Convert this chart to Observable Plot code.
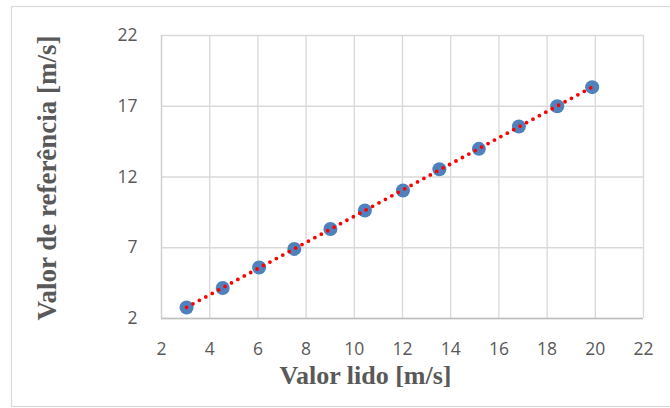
<!DOCTYPE html>
<html>
<head>
<meta charset="utf-8">
<script src="https://cdn.jsdelivr.net/npm/d3@7"></script>
<script src="https://cdn.jsdelivr.net/npm/@observablehq/plot@0.6"></script>
<style>
  body { margin: 0; background: #fff; }
  #chart svg { display: block; }
</style>
</head>
<body>
<div id="chart"></div>
<script>
const valorLido = [3.04, 4.54, 6.05, 7.51, 9.01, 10.44, 12.02, 13.53, 15.17, 16.83, 18.42, 19.87];
const valorReferencia = [2.78, 4.16, 5.60, 6.92, 8.33, 9.63, 11.05, 12.55, 13.99, 15.57, 17.00, 18.35];
const xTicks = [2, 4, 6, 8, 10, 12, 14, 16, 18, 20, 22];
const yTicks = [2, 7, 12, 17, 22];
const xLabel = "Valor lido [m/s]";
const yLabel = "Valor de referência [m/s]";

const data = valorLido.map((x, i) => ({x, y: valorReferencia[i]}));

const tickFont = "'Open Sans', 'Liberation Sans', sans-serif";
const labelFont = "'Liberation Serif', 'Times New Roman', serif";

const chart = Plot.plot({
  width: 670,
  height: 408,
  marginLeft: 161,
  marginRight: 27,
  marginTop: 35,
  marginBottom: 90,
  style: {background: "#fff", overflow: "visible"},
  x: {domain: [2, 22], ticks: xTicks},
  y: {domain: [2, 22], ticks: yTicks},
  marks: [
    Plot.frame({stroke: "#d9d9d9", insetLeft: -150, insetTop: -29, insetRight: -40, insetBottom: -88, strokeWidth: 1.2}),
    Plot.gridX(xTicks, {stroke: "#d9d9d9", strokeOpacity: 1, strokeWidth: 1.3}),
    Plot.gridY(yTicks, {stroke: "#d9d9d9", strokeOpacity: 1, strokeWidth: 1.3}),
    Plot.ruleY([2], {stroke: "#bfbfbf", strokeWidth: 1.3}),
    Plot.ruleX([2], {stroke: "#d0d0d0", strokeWidth: 1.3}),
    Plot.axisX(xTicks, {tickSize: 0, tickPadding: 24, label: null, fontSize: 17.5, fill: "#595959", fontFamily: tickFont}),
    Plot.axisY(yTicks, {tickSize: 0, tickPadding: 24, label: null, fontSize: 17.5, fill: "#595959", fontFamily: tickFont}),
    Plot.dot(data, {x: "x", y: "y", r: 7, fill: "#4f81bd", stroke: null}),
    Plot.linearRegressionY(data, {x: "x", y: "y", ci: 0, stroke: "#ff0000", strokeWidth: 3.8, strokeLinecap: "round", strokeDasharray: "0,7.3"}),
    Plot.text([xLabel], {frameAnchor: "bottom", lineAnchor: "middle", dx: -37, dy: 57, text: d => d, fontSize: 26, fontWeight: "bold", fill: "#595959", fontFamily: labelFont}),
    Plot.text([yLabel], {frameAnchor: "left", textAnchor: "middle", lineAnchor: "middle", dx: -114, dy: 1, rotate: -90, text: d => d, fontSize: 27, fontWeight: "bold", fill: "#595959", fontFamily: labelFont})
  ]
});
document.getElementById("chart").append(chart);
</script>
</body>
</html>
